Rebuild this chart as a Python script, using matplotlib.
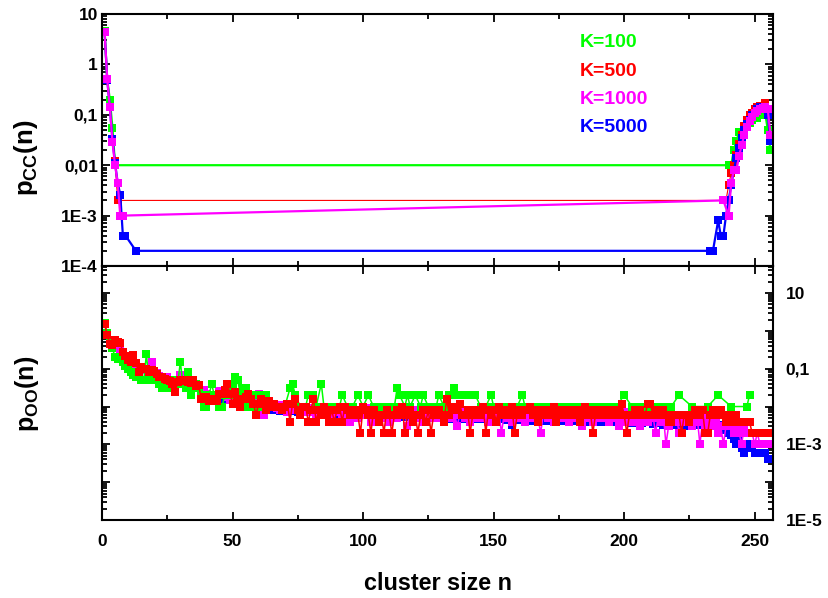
import matplotlib.pyplot as plt
from matplotlib.ticker import FixedLocator, FuncFormatter, LogLocator, MultipleLocator, NullFormatter
import numpy as np

plt.rcParams['font.family'] = ['Liberation Sans', 'DejaVu Sans']
plt.rcParams['font.weight'] = 'bold'
plt.rcParams['mathtext.fontset'] = 'custom'
plt.rcParams['mathtext.rm'] = 'Liberation Sans:bold'
plt.rcParams['mathtext.it'] = 'Liberation Sans:bold'
plt.rcParams['mathtext.bf'] = 'Liberation Sans:bold'

# ---- data ----
K_values = [100, 500, 1000, 5000]
labels = ['K=100', 'K=500', 'K=1000', 'K=5000']
colours = ['#00ff00', '#ff0000', '#ff00ff', '#0000ff']

# top panel: p_CC(n)
cc_n_100 = [1, 2, 3, 4, 5, 240, 241, 242, 243, 244, 245, 246, 247, 248, 249, 250, 251, 252, 253, 254, 255, 256]
cc_p_100 = [4.5, 0.5, 0.2, 0.055, 0.01, 0.01, 0.01, 0.02, 0.03, 0.045, 0.03, 0.04, 0.06, 0.07, 0.08, 0.09,
            0.085, 0.1, 0.12, 0.11, 0.05, 0.02]
cc_n_500 = [1, 2, 3, 4, 5, 6, 239, 240, 241, 242, 243, 244, 245, 246, 247, 248, 249, 250, 251, 252, 253, 254, 255, 256]
cc_p_500 = [4.4, 0.5, 0.14, 0.03, 0.012, 0.002, 0.002, 0.004, 0.007, 0.01, 0.016, 0.026, 0.04, 0.06, 0.08, 0.1,
            0.11, 0.13, 0.14, 0.15, 0.15, 0.17, 0.12, 0.03]
cc_n_1000 = [1, 2, 3, 4, 5, 6, 7, 8, 238, 240, 241, 242, 243, 244, 245, 246, 247, 248, 249, 250, 251, 252, 253,
             254, 255, 256]
cc_p_1000 = [4.4, 0.51, 0.14, 0.029, 0.01, 0.0045, 0.001, 0.001, 0.002, 0.001, 0.0045, 0.008, 0.008, 0.015,
             0.025, 0.04, 0.057, 0.075, 0.09, 0.11, 0.12, 0.13, 0.135, 0.14, 0.13, 0.04]
cc_n_5000 = [1, 2, 3, 4, 5, 6, 7, 8, 9, 13, 233, 234, 236, 237, 238, 239, 240, 241, 242, 243, 244, 245, 246, 247,
             248, 249, 250, 251, 252, 253, 254, 255, 256]
cc_p_5000 = [4.4, 0.5, 0.14, 0.033, 0.011, 0.0045, 0.0026, 0.0004, 0.0004, 0.0002, 0.0002, 0.0002, 0.0008,
             0.0004, 0.0004, 0.001, 0.002, 0.004, 0.008, 0.014, 0.022, 0.035, 0.05, 0.065, 0.08, 0.1, 0.11,
             0.13, 0.14, 0.145, 0.14, 0.1, 0.03]

# bottom panel: p_OO(n) given as counts, p = count / K
oo_n_100 = list(range(1, 65)) + [
    65, 66, 68, 70, 72, 73, 74, 76, 78, 79, 80, 81, 82, 84, 85, 87, 89, 91, 92, 94,
    96, 98, 100, 102, 104, 106, 108, 110, 112, 113, 114, 116, 117, 118, 120, 122, 123, 125, 128, 129,
    131, 133, 135, 136, 138, 140, 141, 143, 145, 147, 149, 150, 152, 154, 155, 157, 159, 161, 162, 164,
    166, 168, 169, 171, 173, 175, 176, 178, 180, 182, 184, 186, 188, 190, 192, 194, 196, 197, 200, 203,
    205, 207, 210, 212, 215, 218, 221, 226, 232, 236, 241, 247, 248]
oo_c_100 = [
    160, 90, 50, 35, 20, 18, 20, 15, 12, 10, 8, 7, 6, 6, 5, 5,
    24, 5, 5, 6, 5, 4, 3, 4, 5, 3, 4, 5, 4, 15, 4, 3,
    8, 2, 3, 4, 3, 2, 1, 1, 2, 4, 2, 2, 1, 1, 2, 3,
    2, 4, 6, 5, 2, 3, 3, 1, 2, 2, 1, 2, 2, 1, 2, 1,
    1, 1, 1, 1, 3, 4, 2, 1, 1, 2, 2, 2, 1, 4, 1, 1, 1, 1, 2, 1,
    1, 2, 1, 2, 1, 1, 1, 1, 1, 3, 2, 1, 2, 1, 2, 1, 2, 1, 1, 2,
    1, 2, 3, 2, 2, 2, 2, 2, 1, 1, 2, 1, 1, 1, 1, 1, 1, 2, 1, 1,
    1, 1, 1, 1, 1, 1, 1, 1, 1, 1, 1, 1, 1, 1, 1, 1, 1, 1, 2, 1,
    1, 1, 1, 1, 1, 1, 2, 1, 1, 2, 1, 1, 2]

oo_c_500 = [
    750, 385, 225, 210, 285, 260, 235, 140, 110, 85, 75, 115, 70, 42, 55, 50,
    48, 40, 46, 44, 36, 30, 31, 27, 25, 23, 20, 12, 22, 25, 24, 25,
    22, 21, 25, 18, 19, 8, 9, 9, 7, 7, 8, 7, 11, 11, 14, 20,
    11, 6, 12, 8, 5, 8, 9, 11, 8, 6, 3, 6, 8, 6, 4, 7,
    5, 6, 5, 5, 4, 5, 6, 2, 6, 8, 4, 3, 5, 5, 2, 4,
    8, 2, 4, 3, 5, 3, 2, 4, 2, 4, 5, 2, 5, 4, 3, 4,
    4, 3, 1, 5, 4, 3, 1, 4, 3, 2, 3, 1, 4, 3, 1, 3,
    4, 3, 5, 1, 3, 4, 2, 3, 1, 3, 4, 2, 4, 1, 3, 4,
    4, 3, 2, 8, 3, 5, 4, 4, 6, 3, 3, 4, 1, 3, 4, 3,
    3, 5, 1, 4, 3, 4, 2, 5, 3, 4, 3, 3, 5, 1, 3, 4,
    3, 4, 4, 5, 3, 4, 2, 3, 4, 3, 4, 3, 5, 2, 3, 4,
    3, 4, 3, 4, 3, 4, 2, 3, 5, 3, 4, 1, 3, 4, 3, 3,
    4, 3, 4, 3, 3, 4, 6, 3, 1, 3, 3, 4, 3, 4, 3, 3,
    6, 6, 3, 4, 3, 3, 4, 3, 2, 2, 3, 3, 3, 1, 3, 3,
    2, 3, 4, 3, 3, 4, 1, 1, 3, 4, 3, 3, 4, 3, 2, 3,
    2, 2, 3, 2, 2, 2, 2, 2, 1, 1, 1, 1, 1, 1, 1, 1]

oo_c_1000 = [
    1500, 850, 480, 420, 500, 420, 330, 250, 210, 170, 150, 160, 130, 110, 110, 90,
    95, 100, 150, 80, 75, 65, 60, 55, 60, 50, 45, 48, 45, 68, 45, 40,
    40, 38, 35, 38, 30, 20, 27, 22, 18, 20, 16, 18, 25, 22, 20, 18,
    15, 16, 14, 12, 18, 16, 13, 14, 10, 12, 15, 22, 10, 6, 12, 10,
    10, 12, 9, 8, 11, 9, 7, 10, 8, 12, 9, 6, 8, 10, 7, 9,
    8, 6, 9, 7, 10, 6, 8, 5, 9, 7, 8, 6, 10, 7, 4, 8,
    7, 5, 8, 6, 9, 7, 4, 8, 6, 7, 5, 8, 6, 4, 7, 6,
    5, 8, 6, 7, 3, 6, 8, 5, 7, 6, 4, 7, 5, 6, 8, 5,
    6, 7, 4, 8, 6, 5, 7, 3, 6, 8, 5, 6, 4, 7, 6, 5,
    7, 5, 6, 4, 8, 6, 5, 7, 2, 6, 5, 7, 4, 6, 5, 8,
    6, 4, 7, 5, 6, 8, 5, 2, 6, 7, 5, 6, 4, 7, 5, 6,
    5, 7, 4, 6, 8, 5, 6, 3, 7, 5, 6, 4, 6, 5, 7, 5,
    6, 4, 7, 5, 6, 3, 5, 7, 4, 6, 5, 4, 6, 3, 5, 6,
    4, 5, 6, 2, 5, 4, 6, 1, 3, 5, 4, 6, 2, 4, 5, 4,
    5, 3, 4, 5, 1, 4, 3, 5, 4, 3, 4, 2, 3, 1, 3, 3,
    3, 2, 3, 2, 1, 3, 2, 2, 2, 1, 2, 1, 1, 1, 1, 1]

oo_c_5000 = [
    7500, 4000, 2500, 2100, 2250, 1900, 1500, 1250, 1000, 850, 780, 700, 620, 550, 500, 475,
    450, 425, 400, 375, 350, 325, 290, 270, 250, 240, 230, 220, 215, 205, 200, 195,
    190, 185, 180, 175, 170, 100, 95, 92, 90, 88, 85, 85, 82, 80, 78, 76,
    75, 72, 70, 68, 66, 64, 63, 62, 60, 58, 57, 56, 55, 54, 53, 52,
    42, 40, 41, 39, 40, 38, 40, 37, 39, 38, 36, 38, 37, 36, 38, 35,
    36, 35, 37, 34, 36, 33, 35, 34, 33, 35, 32, 34, 33, 31, 33, 32,
    31, 33, 30, 32, 31, 29, 31, 30, 32, 29, 30, 31, 28, 30, 29, 28,
    30, 28, 29, 27, 29, 28, 26, 28, 27, 29, 26, 27, 28, 26, 27, 25,
    27, 26, 25, 27, 24, 26, 25, 27, 24, 25, 26, 23, 25, 27, 24, 26,
    25, 23, 24, 26, 22, 25, 20, 24, 23, 25, 22, 24, 16, 23, 25, 22,
    24, 22, 23, 25, 21, 23, 20, 22, 24, 21, 23, 22, 20, 23, 21, 22,
    21, 23, 20, 22, 24, 21, 19, 22, 20, 23, 21, 19, 22, 20, 21, 19,
    21, 20, 22, 19, 21, 18, 20, 22, 19, 21, 18, 20, 19, 21, 18, 19,
    19, 20, 17, 19, 18, 20, 16, 18, 19, 17, 18, 16, 17, 18, 15, 17,
    18, 20, 17, 19, 16, 18, 20, 17, 19, 22, 18, 16, 15, 14, 12, 10,
    9, 7, 5, 6, 4, 3, 4, 5, 4, 3, 3, 3, 3, 3, 2, 2]

oo_n_full = list(range(1, 257))

cc_top_labels = {10: '10', 1: '1', 0.1: '0,1', 0.01: '0,01', 1e-3: '1E-3', 1e-4: '1E-4'}
oo_labels = {10: '10', 0.1: '0,1', 1e-3: '1E-3', 1e-5: '1E-5'}


def label_for(mapping):
    def fmt(v, pos):
        for key, text in mapping.items():
            if abs(np.log10(v) - np.log10(key)) < 1e-6:
                return text
        return ''
    return fmt


def style_axis(ax):
    for side in ['left', 'right', 'top', 'bottom']:
        ax.spines[side].set_linewidth(1.5)
    ax.tick_params(which='both', direction='in', top=True, right=True, width=1.3, labelsize=12.5)
    ax.tick_params(which='major', length=6)
    ax.tick_params(which='minor', length=3.5)
    ax.xaxis.set_major_locator(MultipleLocator(50))
    ax.xaxis.set_minor_locator(MultipleLocator(25))
    ax.set_yscale('log')
    ax.yaxis.set_minor_locator(LogLocator(base=10, subs=np.arange(2, 10), numticks=20))
    ax.yaxis.set_minor_formatter(NullFormatter())
    ax.set_xlim(0, 257)


fig = plt.figure(figsize=(8.29, 5.98), dpi=100)
ax_top = fig.add_axes([102 / 829, 1 - 266 / 598, 671 / 829, 252 / 598])
ax_bot = fig.add_axes([102 / 829, 1 - 520 / 598, 671 / 829, 254 / 598])

# top panel
cc_data = [(cc_n_100, cc_p_100), (cc_n_500, cc_p_500), (cc_n_5000, cc_p_5000), (cc_n_1000, cc_p_1000)]
cc_cols = [colours[0], colours[1], colours[3], colours[2]]
cc_lw = [1.6, 0.8, 1.6, 1.6]
for (n, p), c, lw in zip(cc_data, cc_cols, cc_lw):
    ax_top.plot(n, p, color=c, lw=lw, marker='s', ms=6, mew=0)

style_axis(ax_top)
ax_top.set_ylim(1e-4, 10)
ax_top.yaxis.set_major_locator(FixedLocator([1e-4, 1e-3, 1e-2, 1e-1, 1, 10]))
ax_top.yaxis.set_major_formatter(FuncFormatter(label_for(cc_top_labels)))
ax_top.tick_params(axis='y', pad=3)
ax_top.tick_params(axis='x', labelbottom=False)

legend_y = [0.885, 0.770, 0.659, 0.548]
for lab, c, yy in zip(labels, colours, legend_y):
    ax_top.text(0.712, yy, lab, color=c, fontsize=14, fontweight='bold', transform=ax_top.transAxes,
                ha='left', va='center')

# bottom panel
oo_series = [(oo_n_full, oo_c_5000, 5000, colours[3]),
             (oo_n_full, oo_c_1000, 1000, colours[2]),
             (oo_n_100, oo_c_100, 100, colours[0]),
             (oo_n_full, oo_c_500, 500, colours[1])]
for n, c, k, col in oo_series:
    p = np.array(c, dtype=float) / k
    ax_bot.plot(n, p, color=col, lw=1.1, marker='s', ms=5.2, mew=0)

style_axis(ax_bot)
ax_bot.set_ylim(1e-5, 52)
ax_bot.yaxis.set_major_locator(FixedLocator([1e-5, 1e-4, 1e-3, 1e-2, 1e-1, 1, 10]))
ax_bot.yaxis.set_major_formatter(FuncFormatter(label_for(oo_labels)))
ax_bot.tick_params(axis='y', labelleft=False, labelright=True, pad=9)
ax_bot.tick_params(axis='x', pad=10)

fig.text(26 / 829, 1 - 158 / 598, r'p$_{\mathrm{CC}}$(n)', rotation=90, ha='center', va='center',
         fontsize=18.5, fontweight='bold')
fig.text(27 / 829, 1 - 394 / 598, r'p$_{\mathrm{OO}}$(n)', rotation=90, ha='center', va='center',
         fontsize=18, fontweight='bold')
fig.text(438 / 829, 1 - 590 / 598, 'cluster size n', ha='center', va='baseline', fontsize=16.8,
         fontweight='bold')

fig.savefig('out.png', dpi=100)
